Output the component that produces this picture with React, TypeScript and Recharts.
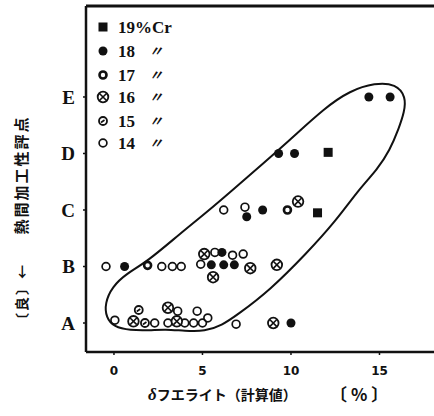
import React from 'react';
import { ComposedChart, Scatter, Line, XAxis, YAxis, ReferenceLine } from 'recharts';

// hot-workability grade (A = good) on y, calculated delta ferrite [%] on x
const gradeLetters = ['A', 'B', 'C', 'D', 'E'];
const gradeTicks = [1, 2, 3, 4, 5];
const ferriteTicks = [0, 5, 10, 15];

const cr19 = [
  { x: 12.1, y: 4.02 },
  { x: 11.5, y: 2.95 },
];
const cr18 = [
  { x: 14.4, y: 5 }, { x: 15.6, y: 5 },
  { x: 9.3, y: 4 }, { x: 10.2, y: 4 },
  { x: 8.4, y: 3 }, { x: 7.5, y: 2.88 },
  { x: 0.6, y: 2 }, { x: 6.1, y: 2.25 }, { x: 5.5, y: 2.03 }, { x: 6.2, y: 2.03 }, { x: 6.8, y: 2.03 },
  { x: 10.0, y: 1 },
];
const cr17 = [
  { x: 9.8, y: 3 },
  { x: 1.9, y: 2.02 },
];
const cr16 = [
  { x: 10.4, y: 3.15 },
  { x: 5.1, y: 2.22 }, { x: 7.7, y: 1.97 }, { x: 5.6, y: 1.81 }, { x: 9.2, y: 2.03 },
  { x: 1.1, y: 1.03 }, { x: 3.05, y: 1.27 }, { x: 3.55, y: 1.03 }, { x: 9.0, y: 1 },
];
const cr15 = [
  { x: 1.4, y: 1.23 },
  { x: 1.75, y: 1.0 },
];
const cr14 = [
  { x: -0.45, y: 2 }, { x: 2.7, y: 2 }, { x: 3.3, y: 2 }, { x: 3.8, y: 2 }, { x: 4.9, y: 2.04 },
  { x: 5.7, y: 2.25 }, { x: 6.7, y: 2.2 }, { x: 7.3, y: 2.22 },
  { x: 6.2, y: 3 }, { x: 7.4, y: 3.05 },
  { x: 0.05, y: 1.05 }, { x: 2.3, y: 1.0 }, { x: 3.6, y: 1.21 }, { x: 4.7, y: 1.21 },
  { x: 3.05, y: 1.0 }, { x: 4.0, y: 1.0 }, { x: 4.5, y: 1.0 }, { x: 5.0, y: 1.0 }, { x: 5.3, y: 1.09 },
  { x: 6.9, y: 0.98 },
];

// hand-drawn outline around the data, traced as a closed loop
const envelope = [
  { x: -0.51, y: 1.35 }, { x: -0.11, y: 1.64 }, { x: 0.73, y: 1.88 }, { x: 1.86, y: 2.08 },
  { x: 3.73, y: 2.58 }, { x: 5.59, y: 3.05 }, { x: 7.68, y: 3.62 }, { x: 9.94, y: 4.24 },
  { x: 11.92, y: 4.81 }, { x: 13.33, y: 5.11 }, { x: 14.75, y: 5.25 }, { x: 15.93, y: 5.23 },
  { x: 16.5, y: 5.0 }, { x: 16.4, y: 4.73 }, { x: 16.1, y: 4.45 }, { x: 15.59, y: 4.06 },
  { x: 14.86, y: 3.71 }, { x: 13.9, y: 3.39 }, { x: 12.49, y: 2.79 }, { x: 10.9, y: 2.24 },
  { x: 8.81, y: 1.58 }, { x: 6.95, y: 1.14 }, { x: 6.1, y: 0.96 }, { x: 5.14, y: 0.85 },
  { x: 4.01, y: 0.86 }, { x: 2.88, y: 0.89 }, { x: 2.03, y: 0.87 }, { x: 0.9, y: 0.87 },
  { x: 0.0, y: 0.93 }, { x: -0.45, y: 1.1 },
];

const legendItems = [
  { kind: 'sq', label: '19%Cr', ditto: false },
  { kind: 'dot', label: '18', ditto: true },
  { kind: 'thick', label: '17', ditto: true },
  { kind: 'cross', label: '16', ditto: true },
  { kind: 'slash', label: '15', ditto: true },
  { kind: 'open', label: '14', ditto: true },
];

const W = 434;
const H = 416;
const INK = '#111';

function Marker({ kind, cx, cy }: { kind: string; cx: number; cy: number }) {
  if (cx == null || cy == null) return null;
  switch (kind) {
    case 'sq':
      return <rect x={cx - 4.5} y={cy - 4.5} width={9} height={9} fill={INK} />;
    case 'dot':
      return <circle cx={cx} cy={cy} r={4.5} fill={INK} />;
    case 'thick':
      return <circle cx={cx} cy={cy} r={3.5} fill="none" stroke={INK} strokeWidth={2.6} />;
    case 'cross': {
      const d = 3.3;
      return (
        <g>
          <circle cx={cx} cy={cy} r={5.3} fill="#fff" stroke={INK} strokeWidth={1.8} />
          <line x1={cx - d} y1={cy - d} x2={cx + d} y2={cy + d} stroke={INK} strokeWidth={1.6} />
          <line x1={cx - d} y1={cy + d} x2={cx + d} y2={cy - d} stroke={INK} strokeWidth={1.6} />
        </g>
      );
    }
    case 'slash':
      return (
        <g>
          <circle cx={cx} cy={cy} r={4} fill="none" stroke={INK} strokeWidth={1.8} />
          <line x1={cx - 2} y1={cy + 1.5} x2={cx + 1.5} y2={cy - 1} stroke={INK} strokeWidth={1.6} />
        </g>
      );
    default:
      return <circle cx={cx} cy={cy} r={3.9} fill="none" stroke={INK} strokeWidth={1.7} />;
  }
}

const shapeOf = (kind: string) => (p: any) => <Marker kind={kind} cx={p.cx} cy={p.cy} />;

const jp = '"Noto Sans CJK JP", sans-serif';
const serif = '"Liberation Serif", "DejaVu Serif", serif';

export default function App() {
  return (
    <div style={{ position: 'absolute', left: 0, top: 0, width: W, height: H, background: '#fff' }}>
      <ComposedChart width={W} height={H} margin={{ top: 6, right: 0, bottom: 0, left: 0 }}>
        <XAxis
          type="number"
          dataKey="x"
          domain={[-1.58, 18.08]}
          allowDataOverflow
          ticks={ferriteTicks}
          height={64}
          tickSize={3}
          tickMargin={11}
          axisLine={{ stroke: INK, strokeWidth: 2.5 }}
          tickLine={{ stroke: INK, strokeWidth: 1.5 }}
          tick={{ fill: INK, fontSize: 12, fontWeight: 700, fontFamily: '"DejaVu Sans", sans-serif' }}
        />
        <YAxis
          type="number"
          dataKey="y"
          domain={[0.487, 6.61]}
          allowDataOverflow
          ticks={gradeTicks}
          tickFormatter={(v: number) => gradeLetters[v - 1]}
          width={86}
          tickSize={3}
          tickMargin={8}
          axisLine={{ stroke: INK, strokeWidth: 2.5 }}
          tickLine={{ stroke: INK, strokeWidth: 1.5 }}
          tick={{ fill: INK, fontSize: 19, fontWeight: 700, fontFamily: serif }}
        />
        <ReferenceLine y={6.61} stroke={INK} strokeWidth={3} ifOverflow="visible" />
        <Line
          data={envelope}
          dataKey="y"
          type="basisClosed"
          stroke={INK}
          strokeWidth={2}
          dot={false}
          activeDot={false}
          isAnimationActive={false}
        />
        <Scatter data={cr14} dataKey="y" shape={shapeOf('open')} isAnimationActive={false} />
        <Scatter data={cr15} dataKey="y" shape={shapeOf('slash')} isAnimationActive={false} />
        <Scatter data={cr16} dataKey="y" shape={shapeOf('cross')} isAnimationActive={false} />
        <Scatter data={cr17} dataKey="y" shape={shapeOf('thick')} isAnimationActive={false} />
        <Scatter data={cr18} dataKey="y" shape={shapeOf('dot')} isAnimationActive={false} />
        <Scatter data={cr19} dataKey="y" shape={shapeOf('sq')} isAnimationActive={false} />
      </ComposedChart>

      <svg
        width={W}
        height={H}
        style={{ position: 'absolute', left: 0, top: 0, pointerEvents: 'none' }}
      >
        {legendItems.map((it, i) => {
          const y = [27, 51, 75, 97, 121, 143][i];
          return (
            <g key={it.label}>
              <Marker kind={it.kind} cx={103} cy={y} />
              <text
                x={118}
                y={y}
                dy="0.36em"
                fontSize={17}
                fontWeight={700}
                fontFamily={serif}
                fill={INK}
              >
                {it.label}
              </text>
              {it.ditto && (
                <text
                  x={149}
                  y={y}
                  dy="0.36em"
                  fontSize={14}
                  fontWeight={700}
                  fontFamily={jp}
                  fill={INK}
                  fontStyle="italic"
                >
                  〃
                </text>
              )}
            </g>
          );
        })}

        <text x={148} y={395} dy="0.36em" fontSize={14} fontWeight={700} fontFamily={jp} fill={INK}>
          <tspan fontFamily={serif} fontStyle="italic" fontSize={17}>δ</tspan>フエライト（計算値）
        </text>
        <text x={330} y={395} dy="0.36em" fontSize={17} fontWeight={700} fontFamily={jp} fill={INK} letterSpacing={4}>
          〔%〕
        </text>

        <text
          transform="translate(22,175) rotate(-90)"
          textAnchor="middle"
          dy="0.36em"
          fontSize={15}
          fontWeight={700}
          fontFamily={jp}
          fill={INK}
          letterSpacing={2}
        >
          熱間加工性評点
        </text>
        <text
          transform="translate(22,295) rotate(-90)"
          textAnchor="middle"
          dy="0.36em"
          fontSize={14}
          fontWeight={700}
          fontFamily={jp}
          fill={INK}
          letterSpacing={2}
        >
          〔良〕←
        </text>
      </svg>
    </div>
  );
}
